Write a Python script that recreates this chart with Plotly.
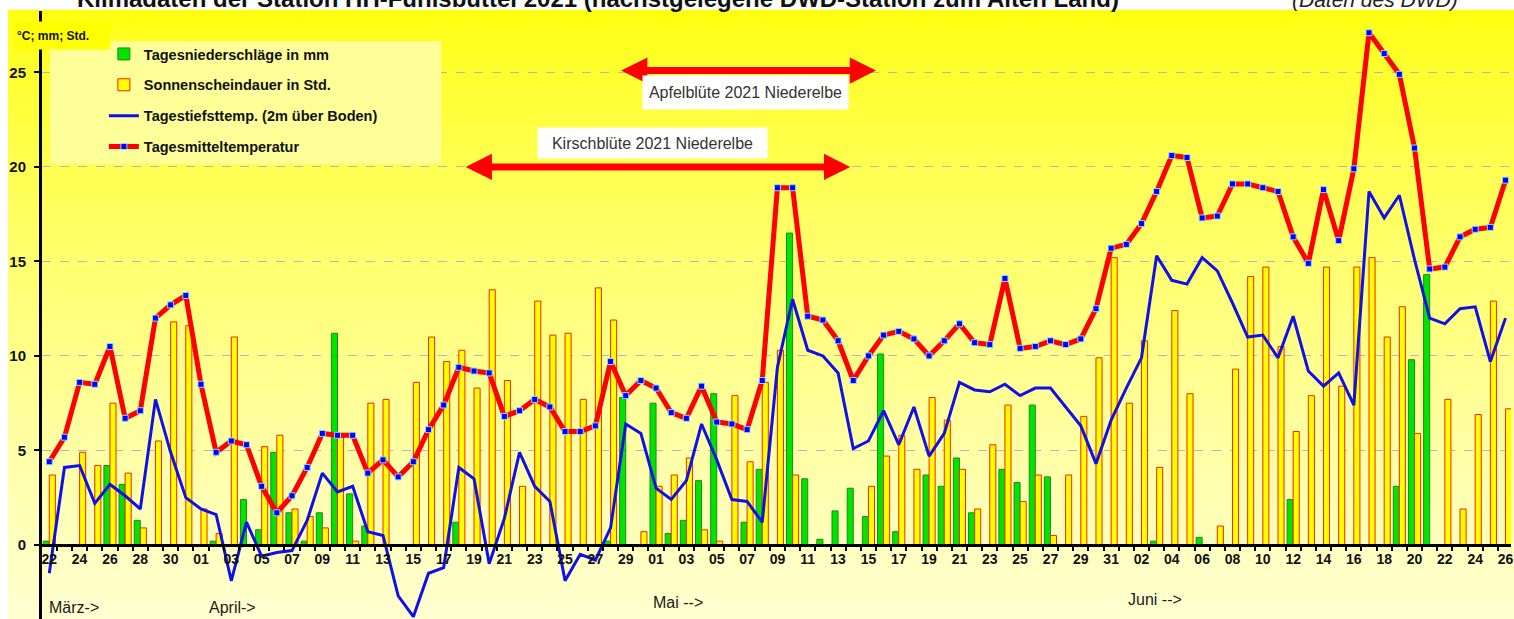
import plotly.graph_objects as go
import pandas as pd

# ---------------- data ----------------
dates = pd.date_range("2021-03-22", "2021-06-26", freq="D")
categories = [d.strftime("%Y-%m-%d") for d in dates]
day_labels = [d.strftime("%d") for d in dates]

# Tagesniederschläge in mm
precip = [0.2, 0, 0, 0, 4.2, 3.2, 1.3, 0, 0, 0,
          0, 0.2, 0, 2.4, 0.8, 4.9, 1.7, 0.2, 1.7, 11.2,
          2.7, 1.0, 0, 0, 0, 0, 0, 1.2, 0, 0,
          0, 0, 0, 0, 0, 0, 0, 0.2, 7.8, 0,
          7.5, 0.6, 1.3, 3.4, 8.0, 0, 1.2, 4.0, 0, 16.5,
          3.5, 0.3, 1.8, 3.0, 1.5, 10.1, 0.7, 0, 3.7, 3.1,
          4.6, 1.7, 0, 4.0, 3.3, 7.4, 3.6, 0, 0, 0,
          0, 0, 0, 0.2, 0, 0, 0.4, 0, 0, 0,
          0, 0, 2.4, 0, 0, 0, 0, 0, 0, 3.1,
          9.8, 14.3, 0, 0, 0, 0, 0]

# Sonnenscheindauer in Std.
sunshine = [3.7, 0, 4.9, 4.2, 7.5, 3.8, 0.9, 5.5, 11.8, 11.6,
            1.9, 0.6, 11.0, 0, 5.2, 5.8, 1.9, 1.5, 0.9, 5.7,
            0.2, 7.5, 7.7, 0, 8.6, 11.0, 9.7, 10.3, 8.3, 13.5,
            8.7, 3.1, 12.9, 11.1, 11.2, 7.7, 13.6, 11.9, 0, 0.7,
            3.1, 3.7, 4.6, 0.8, 0.2, 7.9, 4.4, 8.6, 10.3, 3.7,
            0, 0, 0, 0, 3.1, 4.7, 5.8, 4.0, 7.8, 6.6,
            4.0, 1.9, 5.3, 7.4, 2.3, 3.7, 0.5, 3.7, 6.8, 9.9,
            15.2, 7.5, 10.8, 4.1, 12.4, 8.0, 0, 1.0, 9.3, 14.2,
            14.7, 10.5, 6.0, 7.9, 14.7, 8.4, 14.7, 15.2, 11.0, 12.6,
            5.9, 0, 7.7, 1.9, 6.9, 12.9, 7.2]

# Tagestiefsttemp. (2m über Boden)
tmin = [-1.5, 4.1, 4.2, 2.2, 3.2, 2.6, 1.9, 7.7, 4.9, 2.5,
        1.9, 1.6, -1.9, 1.2, -0.6, -0.4, -0.3, 1.3, 3.8, 2.8,
        3.1, 0.7, 0.5, -2.7, -3.8, -1.5, -1.2, 4.1, 3.5, -1.0,
        1.4, 4.9, 3.1, 2.3, -1.9, -0.5, -0.8, 0.9, 6.4, 5.9,
        3.0, 2.4, 3.4, 6.4, 4.5, 2.4, 2.3, 1.2, 9.4, 13.0,
        10.3, 10.0, 9.1, 5.1, 5.5, 7.1, 5.3, 7.3, 4.7, 5.9,
        8.6, 8.2, 8.1, 8.5, 7.9, 8.3, 8.3, 7.3, 6.3, 4.3,
        6.6, 8.3, 9.9, 15.3, 14.0, 13.8, 15.2, 14.5, 12.8, 11.0,
        11.1, 9.9, 12.1, 9.2, 8.4, 9.1, 7.4, 18.7, 17.3, 18.5,
        15.1, 12.0, 11.7, 12.5, 12.6, 9.7, 12.0]

# Tagesmitteltemperatur
tmean = [4.4, 5.7, 8.6, 8.5, 10.5, 6.7, 7.1, 12.0, 12.7, 13.2,
         8.5, 4.9, 5.5, 5.3, 3.1, 1.7, 2.6, 4.1, 5.9, 5.8,
         5.8, 3.8, 4.5, 3.6, 4.4, 6.1, 7.4, 9.4, 9.2, 9.1,
         6.8, 7.1, 7.7, 7.3, 6.0, 6.0, 6.3, 9.7, 7.9, 8.7,
         8.3, 7.0, 6.7, 8.4, 6.5, 6.4, 6.1, 8.7, 18.9, 18.9,
         12.1, 11.9, 10.8, 8.7, 10.0, 11.1, 11.3, 10.9, 10.0, 10.8,
         11.7, 10.7, 10.6, 14.1, 10.4, 10.5, 10.8, 10.6, 10.9, 12.5,
         15.7, 15.9, 17.0, 18.7, 20.6, 20.5, 17.3, 17.4, 19.1, 19.1,
         18.9, 18.7, 16.3, 14.9, 18.8, 16.1, 19.9, 27.1, 26.0, 24.9,
         21.0, 14.6, 14.7, 16.3, 16.7, 16.8, 19.3]

y_ticks = [0, 5, 10, 15, 20, 25]
tick_text = [lbl if i % 2 == 0 else "" for i, lbl in enumerate(day_labels)]

# ---------------- layout constants ----------------
W, H = 1514, 619
ML, MR, MT, MB = 42, 0, 11, 0
PW, PH = W - ML - MR, H - MT - MB
Y_RANGE = [-3.92, 28.25]
X_RANGE = [-0.48, 96.36]
FONT = "Liberation Sans, Arial, sans-serif"


def px_x(p):
    return (p - ML) / PW


def px_y(p):
    return (H - MB - p) / PH


fig = go.Figure()

fig.add_trace(go.Bar(
    x=categories, y=precip, name="<b>Tagesniederschläge in mm</b>",
    marker=dict(color="#00E400", line=dict(color="#1E8A1E", width=1)),
    legendgroup="g1"))
fig.add_trace(go.Bar(
    x=categories, y=sunshine, name="<b>Sonnenscheindauer in Std.</b>",
    marker=dict(color="#FFFF00", line=dict(color="#FF2200", width=1)),
    legendgroup="g2"))
fig.add_trace(go.Scatter(
    x=categories, y=tmin, mode="lines", name="<b>Tagestiefsttemp. (2m über Boden)</b>",
    line=dict(color="#1010E8", width=3), legendgroup="g3"))
fig.add_trace(go.Scatter(
    x=categories, y=tmean, mode="lines+markers", name="<b>Tagesmitteltemperatur</b>",
    line=dict(color="#FF0000", width=5),
    marker=dict(symbol="square", size=6, color="#0000FF",
                line=dict(color="#8FD8FF", width=1)),
    legendgroup="g4"))

# gradient background (chart area)
shapes = []
N = 90
for k in range(N):
    y0 = k / N
    y1 = (k + 1) / N
    t = 1 - (y0 + y1) / 2
    b = int(round(15 + 195 * t ** 0.8))
    shapes.append(dict(type="rect", xref="paper", yref="paper",
                       x0=px_x(8), x1=1.01, y0=y0, y1=y1 + 0.002,
                       fillcolor=f"rgb(255,255,{b})", line=dict(width=0),
                       layer="below"))
# legend box
shapes.append(dict(type="rect", xref="paper", yref="paper",
                   x0=px_x(50), x1=px_x(442), y0=px_y(164), y1=px_y(41),
                   fillcolor="#FFFF9A", line=dict(width=0), layer="above"))

annotations = [
    dict(text="<b>Klimadaten der Station HH-Fuhlsbüttel 2021 (nächstgelegene DWD-Station zum Alten Land)</b>",
         xref="paper", yref="paper", x=px_x(75), y=px_y(14), xanchor="left", yanchor="bottom",
         showarrow=False, font=dict(family=FONT, size=24, color="#111")),
    dict(text="<i>(Daten des DWD)</i>",
         xref="paper", yref="paper", x=px_x(1463), y=px_y(13), xanchor="right", yanchor="bottom",
         showarrow=False, font=dict(family=FONT, size=21, color="#222")),
    dict(text="<b>°C; mm; Std.</b>", xref="paper", yref="paper",
         x=px_x(14), y=px_y(21), xanchor="left", yanchor="top", align="left",
         width=91, height=23, borderpad=2, bgcolor="#FFFF00", showarrow=False,
         font=dict(family=FONT, size=12, color="#111")),
    # month labels
    dict(text="März->", x=-0.15, y=-3.33, xref="x", yref="y", xanchor="left",
         showarrow=False, font=dict(family=FONT, size=16, color="#1a1a1a")),
    dict(text="April->", x=10.4, y=-3.33, xref="x", yref="y", xanchor="left",
         showarrow=False, font=dict(family=FONT, size=16, color="#1a1a1a")),
    dict(text="Mai -->", x=39.65, y=-3.06, xref="x", yref="y", xanchor="left",
         showarrow=False, font=dict(family=FONT, size=16, color="#1a1a1a")),
    dict(text="Juni -->", x=70.97, y=-2.91, xref="x", yref="y", xanchor="left",
         showarrow=False, font=dict(family=FONT, size=16, color="#1a1a1a")),
    # blossom arrows
    dict(text="", x=54.5, y=25.1, ax=37.6, ay=25.1, xref="x", yref="y",
         axref="x", ayref="y", showarrow=True, arrowhead=2, startarrowhead=2,
         arrowside="end+start", arrowsize=0.75, startarrowsize=0.75,
         arrowwidth=7, arrowcolor="#FF0000"),
    dict(text="", x=52.8, y=20.0, ax=27.35, ay=20.0, xref="x", yref="y",
         axref="x", ayref="y", showarrow=True, arrowhead=2, startarrowhead=2,
         arrowside="end+start", arrowsize=0.75, startarrowsize=0.75,
         arrowwidth=7, arrowcolor="#FF0000"),
    dict(text="Apfelblüte 2021 Niederelbe", x=45.87, y=23.94, xref="x", yref="y",
         showarrow=False, bgcolor="#FFFFFF", width=197, height=25, borderpad=4,
         font=dict(family=FONT, size=16, color="#333")),
    dict(text="Kirschblüte 2021 Niederelbe", x=39.75, y=21.27, xref="x", yref="y",
         showarrow=False, bgcolor="#FFFFFF", width=221, height=22, borderpad=4,
         font=dict(family=FONT, size=16, color="#333")),
]

fig.update_layout(
    width=W, height=H, autosize=False,
    margin=dict(l=ML, r=MR, t=MT, b=MB, pad=0),
    paper_bgcolor="#FFFFFF", plot_bgcolor="rgba(0,0,0,0)",
    barmode="group", bargap=0.2, bargroupgap=0,
    font=dict(family=FONT, color="#111"),
    shapes=shapes, annotations=annotations,
    legend=dict(x=px_x(104), y=px_y(38), xanchor="left", yanchor="top",
                bgcolor="rgba(0,0,0,0)", borderwidth=0, tracegroupgap=9,
                traceorder="grouped",
                font=dict(family=FONT, size=14.5, color="#111")),
    showlegend=True,
)

fig.update_xaxes(
    type="category", range=X_RANGE,
    tickmode="array", tickvals=categories, ticktext=tick_text,
    tickson="boundaries", ticks="outside", ticklen=4, tickwidth=2, tickcolor="#000",
    showline=True, linecolor="#000", linewidth=3,
    showgrid=False, zeroline=False,
    anchor="free", position=(0 - Y_RANGE[0]) / (Y_RANGE[1] - Y_RANGE[0]),
    tickfont=dict(family=FONT, size=14, color="#111", weight="bold"),
    tickangle=0,
)
fig.update_yaxes(
    range=Y_RANGE, tickmode="array", tickvals=y_ticks,
    ticks="outside", ticklen=5, tickwidth=2, tickcolor="#000",
    showline=True, linecolor="#000", linewidth=3,
    showgrid=True, gridcolor="#B4B4C4", griddash="dash", gridwidth=1,
    zeroline=False, ticklabelstandoff=5,
    tickfont=dict(family=FONT, size=15, color="#111", weight="bold"),
)

fig.write_html("out.html", config={"displayModeBar": False},
               post_script="document.body.style.margin='0px';document.body.style.overflow='hidden';")
